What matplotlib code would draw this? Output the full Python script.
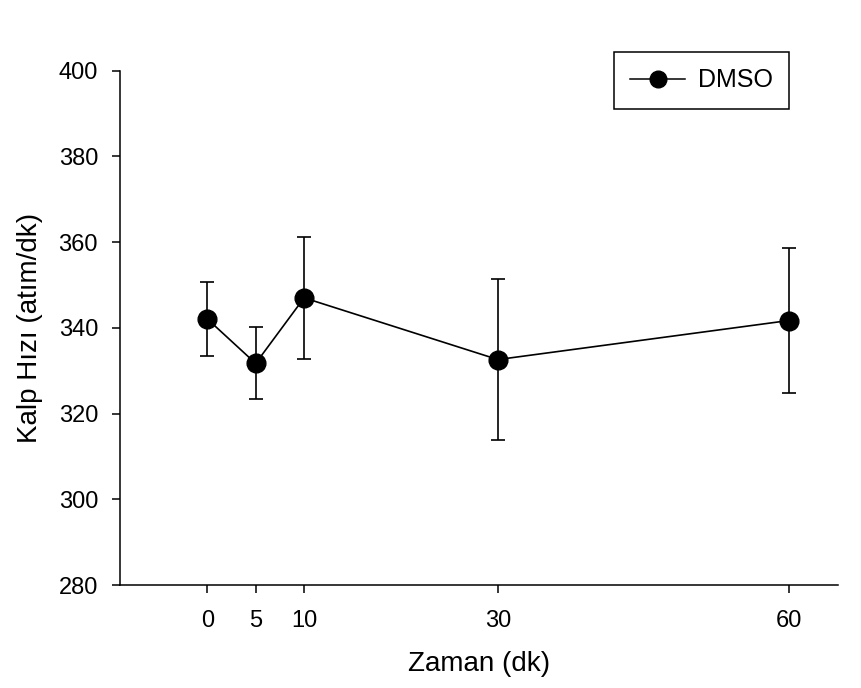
import matplotlib
matplotlib.use("Agg")
import matplotlib.pyplot as plt
from matplotlib.lines import Line2D

plt.rcParams['font.family'] = ['Liberation Sans', 'DejaVu Sans']

time_min = [0, 5, 10, 30, 60]
heart_rate = [342.1, 331.7, 347.0, 332.6, 341.7]
heart_rate_err = [8.6, 8.4, 14.2, 18.8, 16.9]
x_ticks = [0, 5, 10, 30, 60]
y_ticks = [280, 300, 320, 340, 360, 380, 400]

fig = plt.figure(figsize=(8.62, 6.88), dpi=100)
ax = fig.add_axes([120/862, 1-585/688, 718/862, (585-70.7)/688])

ax.errorbar(time_min, heart_rate, yerr=heart_rate_err, color='black',
            marker='o', markersize=13.5, linewidth=1.2, elinewidth=1.2,
            capsize=4.7, capthick=1.2)

ax.set_xlim(-9, 65.1)
ax.set_ylim(280, 400)
ax.set_xticks(x_ticks)
ax.set_yticks(y_ticks)
ax.tick_params(direction='out', length=5.8, width=1.1, labelsize=17)
ax.tick_params(axis='y', pad=10)
ax.tick_params(axis='x', pad=12)
for s in ['top', 'right']:
    ax.spines[s].set_visible(False)
for s in ['left', 'bottom']:
    ax.spines[s].set_linewidth(1.1)

ax.set_xlabel('Zaman (dk)', fontsize=20, labelpad=14)
ax.set_ylabel('Kalp Hızı (atım/dk)', fontsize=20, labelpad=11)

handle = Line2D([], [], color='black', marker='o', markersize=12, linewidth=1.1)
leg = ax.legend([handle], ['DMSO'], loc='upper right',
                bbox_to_anchor=(789/862, 1-52/688),
                bbox_transform=fig.transFigure, borderaxespad=0,
                fontsize=18, frameon=True, fancybox=False, edgecolor='black',
                handlelength=2.2, borderpad=0.65, handletextpad=0.5)
leg.get_frame().set_linewidth(1.1)
leg.get_frame().set_alpha(1)

fig.savefig('out.png', dpi=100)
